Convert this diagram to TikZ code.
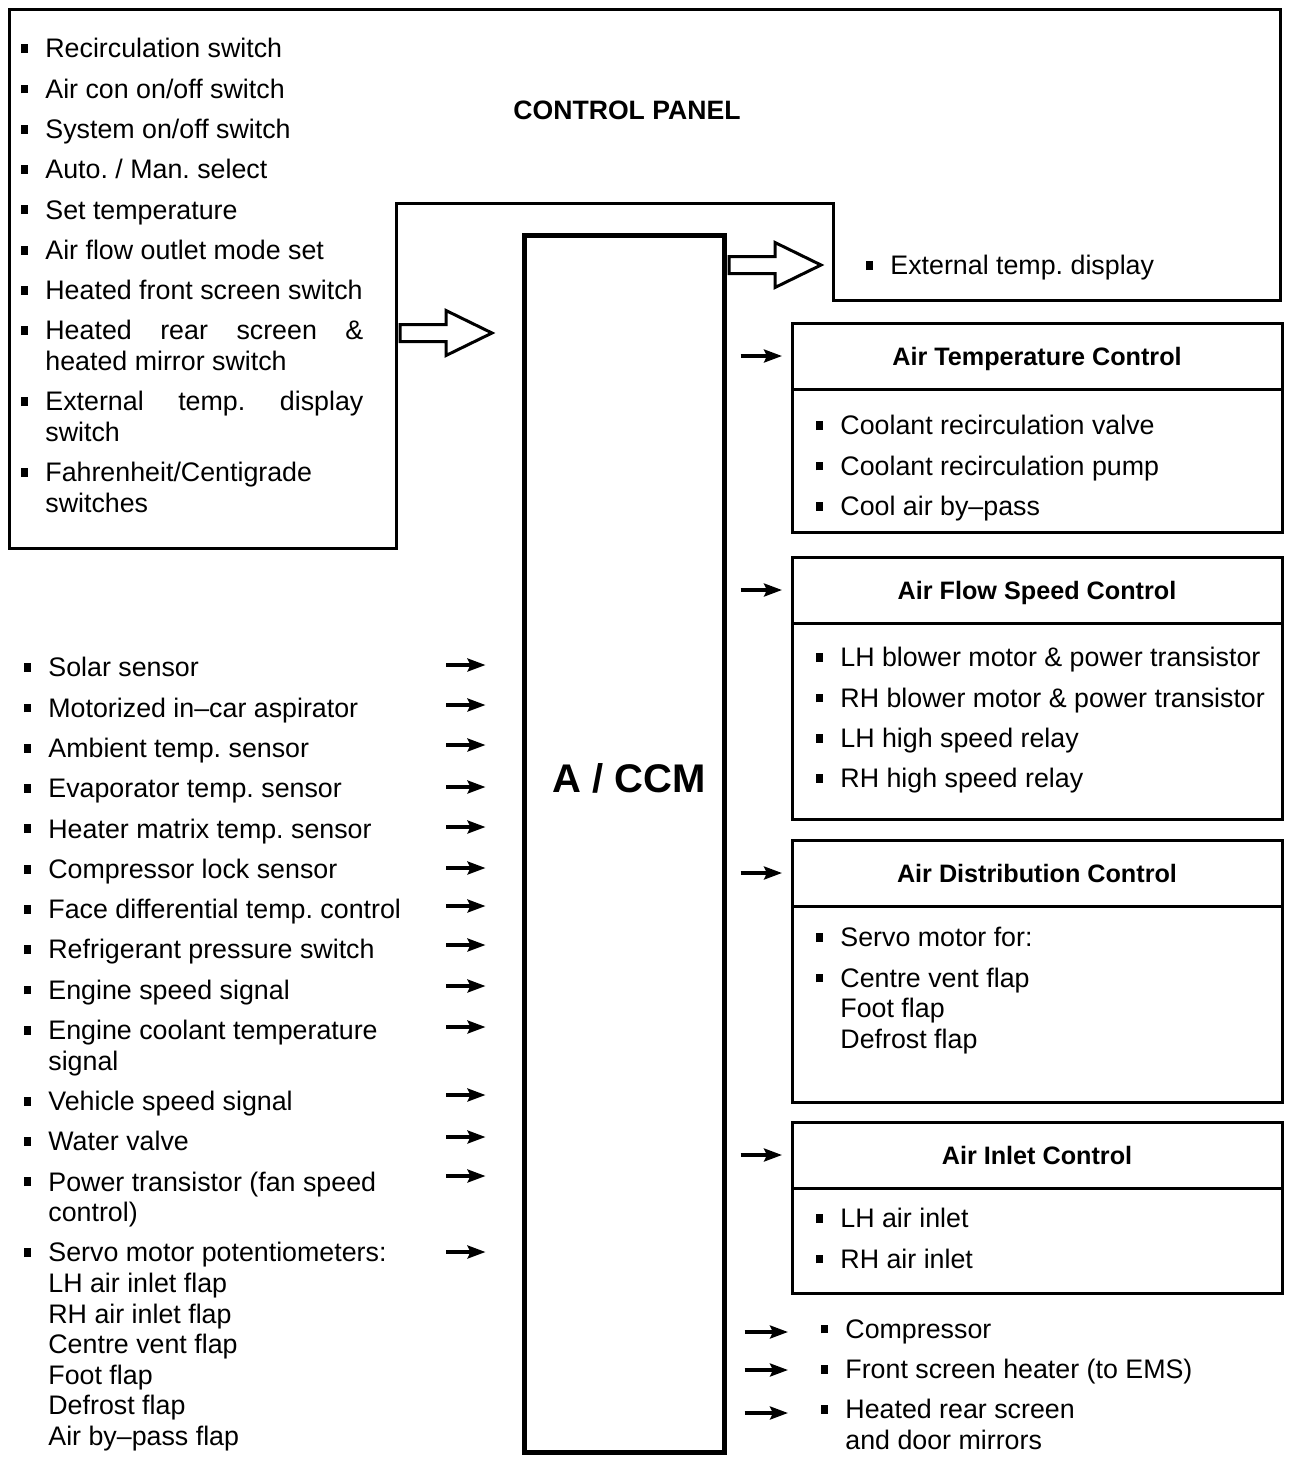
\documentclass[tikz,border=0pt]{standalone}
\usepackage{fontspec}
\setmainfont{Liberation Sans}
\usetikzlibrary{positioning, arrows.meta}
\newcommand{\bul}{\leavevmode\llap{\rule[2.4pt]{3.5pt}{4.4pt}\hspace{8.5pt}}}
\newcommand{\wrapline}{\\[-4.85pt]}
\frenchspacing

\begin{document}
\begin{tikzpicture}[
    x=0.5pt, y=-0.5pt,
    font=\fontsize{13.4}{20.15}\selectfont,
    box/.style={draw, line width=1.5pt, outer sep=0pt},
    ttl/.style={box, minimum width=245pt, minimum height=33pt, inner sep=0pt, text height=9pt, text depth=0pt, font=\bfseries\fontsize{12.6}{15}\selectfont},
    body/.style={box, minimum width=245pt, inner sep=0pt},
    lst/.style={align=left, inner sep=0pt, anchor=north west},
    sarrow/.style={-{Stealth[length=9pt, width=6.5pt, inset=1.5pt]}, line width=1.6pt},
    pics/fatarrow/.style={code={
      \draw[line width=1.5pt, line join=miter, fill=white] (0,-8.5) -- (46,-8.5) -- (46,-22.5) -- (92,0) -- (46,22.5) -- (46,8.5) -- (0,8.5) -- cycle;}}
  ]
    \useasboundingbox (0,0) rectangle (1312,1464);

    % control panel
    \draw[box] (9,9) -- (1280,9) -- (1280,300) -- (833,300) -- (833,203) -- (396,203) -- (396,548) -- (9,548) -- cycle;
    \node[font=\bfseries\fontsize{13.3}{16}\selectfont, inner sep=0pt] (cptitle) at (627,110) {CONTROL PANEL};
    \node[lst] (cplist) at (45,38) {\bul Recirculation switch\\
      \bul Air con on/off switch\\
      \bul System on/off switch\\
      \bul Auto. / Man. select\\
      \bul Set temperature\\
      \bul Air flow outlet mode set\\
      \bul Heated front screen switch\\
      \bul\makebox[159pt][s]{Heated rear screen \&}\wrapline
      heated mirror switch\\
      \bul\makebox[159pt][s]{External temp. display}\wrapline
      switch\\
      \bul Fahrenheit/Centigrade\wrapline
      switches};
    \node[lst] (extdisp) at (890,255) {\bul External temp. display};

    % ==========================================
    \node[draw, line width=2.5pt, minimum width=100pt, minimum height=608.5pt] (ccm) at (624,843.5) {};
    \node[font=\bfseries\fontsize{20}{24}\selectfont, inner sep=0pt] (ccmlbl) at (629,778) {A / CCM};

    \pic at (400,333) {fatarrow};
    \pic at (729,265) {fatarrow};

    % ==========================================
    \node[lst] (sensors) at (48,657) {\bul Solar sensor\\
      \bul Motorized in–car aspirator\\
      \bul Ambient temp. sensor\\
      \bul Evaporator temp. sensor\\
      \bul Heater matrix temp. sensor\\
      \bul Compressor lock sensor\\
      \bul Face differential temp. control\\
      \bul Refrigerant pressure switch\\
      \bul Engine speed signal\\
      \bul Engine coolant temperature\wrapline signal\\
      \bul Vehicle speed signal\\
      \bul Water valve\\
      \bul Power transistor (fan speed\wrapline control)\\
      \bul Servo motor potentiometers:\wrapline
      LH air inlet flap\wrapline
      RH air inlet flap\wrapline
      Centre vent flap\wrapline
      Foot flap\wrapline
      Defrost flap\wrapline
      Air by–pass flap};
    \foreach \y [count=\i] in {665,705,745,787,827,868,906,945,986,1027,1095,1137,1176,1252} {
      \coordinate (s\i) at (446,\y);
      \draw[sarrow, shorten >=18pt] (s\i) -- (s\i -| ccm.west);
    }

    % ==========================================
    \node[ttl, anchor=north west] (tempT) at (792,323) {Air Temperature Control};
    \node[body, minimum height=71.5pt, below=0pt of tempT] (tempB) {};
    \node[lst] (templist) at (840,415) {\bul Coolant recirculation valve\\
      \bul Coolant recirculation pump\\
      \bul Cool air by–pass};

    \node[ttl, anchor=north west] (flowT) at (792,557) {Air Flow Speed Control};
    \node[body, minimum height=98pt, below=0pt of flowT] (flowB) {};
    \node[lst] (flowlist) at (840,647) {\bul LH blower motor \& power transistor\\
      \bul RH blower motor \& power transistor\\
      \bul LH high speed relay\\
      \bul RH high speed relay};

    \node[ttl, anchor=north west] (distT) at (792,840) {Air Distribution Control};
    \node[body, minimum height=98pt, below=0pt of distT] (distB) {};
    \node[lst] (distlist) at (840,927) {\bul Servo motor for:\\
      \bul Centre vent flap\wrapline
      Foot flap\wrapline
      Defrost flap};

    \node[ttl, anchor=north west] (inletT) at (792,1122) {Air Inlet Control};
    \node[body, minimum height=52.5pt, below=0pt of inletT] (inletB) {};
    \node[lst] (inletlist) at (840,1208) {\bul LH air inlet\\
      \bul RH air inlet};

    \foreach \t in {tempT, flowT, distT, inletT}
      \draw[sarrow, shorten <=7pt, shorten >=5pt] (ccm.east |- \t.west) -- (\t.west);

    % ==========================================
    \node[lst] (outlist) at (845,1319) {\bul Compressor\\
      \bul Front screen heater (to EMS)\\
      \bul Heated rear screen\wrapline
      and door mirrors};
    \foreach \y [count=\i] in {1332,1370,1413} {
      \coordinate (o\i) at (788,\y);
      \draw[sarrow, shorten <=9pt] (o\i -| ccm.east) -- (o\i);
    }

  \end{tikzpicture}
\end{document}
